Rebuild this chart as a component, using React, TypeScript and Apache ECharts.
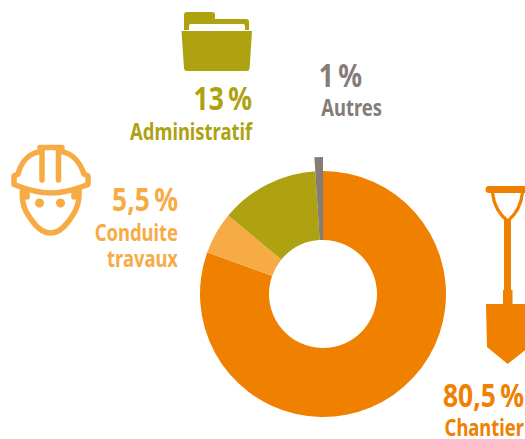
import React, { useEffect, useRef } from "react";
import * as echarts from "echarts";

const categories = ["Chantier", "Conduite travaux", "Administratif", "Autres"];
const values = [80.5, 5.5, 13, 1];
const colors = ["#F08000", "#F7AB45", "#AEA211", "#857C77"];
const valueLabels = ["80,5\u202f%", "5,5\u202f%", "13\u202f%", "1\u202f%"];

const FOLDER =
  "M184 15a3 3 0 0 1 3-3h25a3 3 0 0 1 3 3v4h31a3 3 0 0 1 3 3v8h-4v-4a2 2 0 0 0-2-2H191a2 2 0 0 0-2 2v4h-5zM181.500 31H252L249.600 68.500a3 3 0 0 1-3 2.500H187a3 3 0 0 1-3-2.500z";
const HELMET =
  "M40 147.500H62M42 148V180M58.500 148V180M18 174C21 162 29 153 41 151.500M61 151.500C72 153 80 162 84 174M18 174L14 176V184.500C28 190 38 193 51 193C64 193 74 190 88 184.500V176L84 174M22.500 190C21 206 27 214 33 222C39 230 45 233 50.500 233C56 233 62 230 68 222C74 214 80 206 79 190M27 191V197M74 191V197";
const SHOVEL =
  "M492.500 193C494 206 500 215 507.700 221C515 215 521 206 522.500 193";
const SHOVEL_FILL =
  "M489 186H525V193H489A3.500 3.500 0 0 1 489 186ZM504 220H511V290H512.500V304H529V347L507.700 364L487 347L486 304H503V290H504Z";

function App() {
  const ref = useRef<HTMLDivElement>(null);
  useEffect(() => {
    document.body.style.margin = "0";
    echarts.graphic.registerShape("folderIcon", echarts.graphic.extendPath(FOLDER, {}) as any);
    echarts.graphic.registerShape("helmetIcon", echarts.graphic.extendPath(HELMET, {}) as any);
    echarts.graphic.registerShape("shovelGrip", echarts.graphic.extendPath(SHOVEL, {}) as any);
    echarts.graphic.registerShape("shovelBody", echarts.graphic.extendPath(SHOVEL_FILL, {}) as any);
    const chart = echarts.init(ref.current!, undefined, { renderer: "svg" });
    const font = '"Noto Sans", "Open Sans", sans-serif';
    const label = (text: string, x: number, y: number, size: number, color: string, align = "right", sx = 0.8) => ({
      type: "text",
      x,
      y,
      scaleX: sx,
      style: { text, fill: color, font: `700 ${size}px ${font}`, textAlign: align, textVerticalAlign: "middle" },
    });
    const stroke = { fill: "none", stroke: colors[1], lineWidth: 5.5, lineCap: "round", lineJoin: "round" };
    chart.setOption({
      animation: false,
      series: [
        {
          type: "pie",
          center: [323, 294],
          radius: [54, 123],
          startAngle: 90,
          silent: true,
          label: { show: false },
          labelLine: { show: false },
          data: categories.map((name, i) => ({
            name,
            value: values[i],
            itemStyle: { color: i === 3 ? "transparent" : colors[i] },
          })),
        },
        {
          type: "pie",
          center: [323, 294],
          radius: [54, 137],
          startAngle: 90,
          silent: true,
          label: { show: false },
          labelLine: { show: false },
          data: categories.map((name, i) => ({
            name,
            value: values[i],
            itemStyle: { color: i === 3 ? colors[3] : "transparent" },
          })),
        },
      ],
      graphic: [
        { type: "folderIcon", style: { fill: colors[2] } },
        { type: "helmetIcon", style: stroke },
        { type: "circle", shape: { cx: 39.5, cy: 203, r: 4.5 }, style: { fill: colors[1] } },
        { type: "circle", shape: { cx: 60.5, cy: 203, r: 4.5 }, style: { fill: colors[1] } },
        { type: "shovelBody", style: { fill: colors[0] } },
        { type: "shovelGrip", style: { fill: "none", stroke: colors[0], lineWidth: 3.2 } },
        label(valueLabels[2], 252, 97, 33, colors[2]),
        label(categories[2], 252, 131, 23, colors[2]),
        label(valueLabels[3], 362, 74, 33, colors[3]),
        label(categories[3], 382, 107, 23, colors[3]),
        label(valueLabels[1], 178, 198, 33, colors[1]),
        label("Conduite", 178, 232, 23, colors[1]),
        label("travaux", 178, 258, 23, colors[1]),
        label(valueLabels[0], 524, 394, 33, colors[0]),
        label(categories[0], 524, 427, 23, colors[0]),
      ],
    });
    return () => chart.dispose();
  }, []);
  return <div ref={ref} style={{ position: "absolute", left: 0, top: 0, width: 525, height: 439 }} />;
}

export default App;
